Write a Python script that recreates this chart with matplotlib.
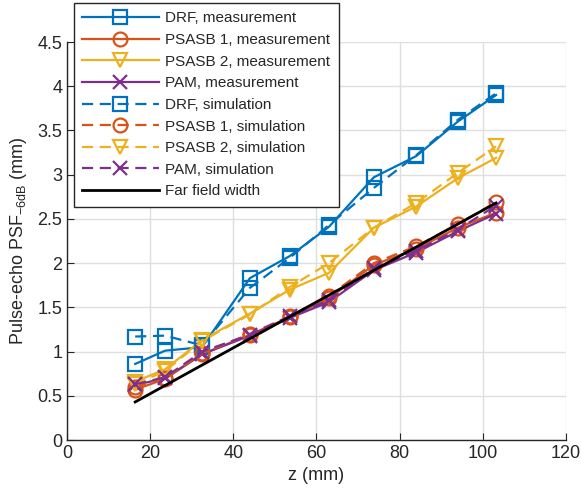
import matplotlib.pyplot as plt

# =========================
# 1. DONNEES
# =========================
z = [16.4, 23.6, 32.5, 44.0, 53.6, 63.0, 73.8, 84.0, 94.0, 103.2]

drf_meas = [0.86, 1.01, 1.05, 1.83, 2.08, 2.41, 2.97, 3.21, 3.60, 3.90]
psasb1_meas = [0.57, 0.69, 0.97, 1.19, 1.39, 1.60, 1.98, 2.16, 2.40, 2.57]
psasb2_meas = [0.66, 0.80, 1.13, 1.43, 1.70, 1.89, 2.40, 2.64, 2.96, 3.19]
pam_meas = [0.62, 0.70, 0.97, 1.18, 1.38, 1.56, 1.92, 2.12, 2.36, 2.56]

drf_sim = [1.17, 1.18, 1.07, 1.72, 2.06, 2.43, 2.85, 3.22, 3.62, 3.92]
psasb1_sim = [0.60, 0.70, 0.98, 1.20, 1.40, 1.63, 2.00, 2.19, 2.44, 2.69]
psasb2_sim = [0.63, 0.78, 1.12, 1.42, 1.73, 2.00, 2.40, 2.68, 3.02, 3.32]
pam_sim = [0.63, 0.71, 1.00, 1.19, 1.40, 1.58, 1.94, 2.14, 2.38, 2.65]

ff_z = [16.4, 103.2]
ff_width = [0.43, 2.68]

names = ["DRF", "PSASB 1", "PSASB 2", "PAM"]
colors = ["#0072BD", "#D95319", "#EDB120", "#7E2F8E"]
markers = ["s", "o", "v", "x"]
meas = [drf_meas, psasb1_meas, psasb2_meas, pam_meas]
sim = [drf_sim, psasb1_sim, psasb2_sim, pam_sim]

plt.rcParams['font.family'] = ['Liberation Sans', 'DejaVu Sans']

# =========================
# 2. FIGURE
# =========================
fig = plt.figure(figsize=(5.81, 4.93), dpi=100)
ax = fig.add_axes([0.1153, 0.1075, 0.974 - 0.1153, 0.9148 - 0.1075])

for name, c, m, y in zip(names, colors, markers, meas):
    ax.plot(z, y, color=c, marker=m, lw=1.6, ms=10, mfc='none', mew=1.6,
            label=name + ", measurement")
for name, c, m, y in zip(names, colors, markers, sim):
    ax.plot(z, y, color=c, marker=m, lw=1.6, ms=10, mfc='none', mew=1.6,
            ls=(0, (5, 3)), label=name + ", simulation")
ax.plot(ff_z, ff_width, color='black', lw=2, label="Far field width")

ax.set_xlim(0, 120)
ax.set_ylim(0, 4.5)
ax.set_xticks(range(0, 121, 20))
ax.set_yticks([0, 0.5, 1, 1.5, 2, 2.5, 3, 3.5, 4, 4.5])
ax.set_yticklabels(["0", "0.5", "1", "1.5", "2", "2.5", "3", "3.5", "4", "4.5"])
ax.grid(True, color='#DFDFDF', lw=1)
ax.set_axisbelow(True)
for s in ['top', 'right']:
    ax.spines[s].set_visible(False)
for s in ['left', 'bottom']:
    ax.spines[s].set_color('#262626')
    ax.spines[s].set_linewidth(1)
ax.tick_params(direction='in', length=5, colors='#262626', labelsize=13,
               labelcolor='#262626')

ax.set_xlabel("z (mm)", fontsize=13, color='#262626', labelpad=4)
ax.set_ylabel(r"Pulse-echo PSF$_{\mathregular{-6dB}}$ (mm)", fontsize=13,
              color='#262626', labelpad=6)

leg = ax.legend(loc='upper left', bbox_to_anchor=(0.127, 0.994),
                bbox_transform=fig.transFigure, borderaxespad=0,
                fontsize=11, handlelength=5.0, handletextpad=0.45,
                labelspacing=0.5, fancybox=False, framealpha=1,
                edgecolor='#262626', borderpad=0.55)
leg.get_frame().set_linewidth(1)
for t in leg.get_texts():
    t.set_color('#262626')

fig.savefig("out.png", dpi=100)
